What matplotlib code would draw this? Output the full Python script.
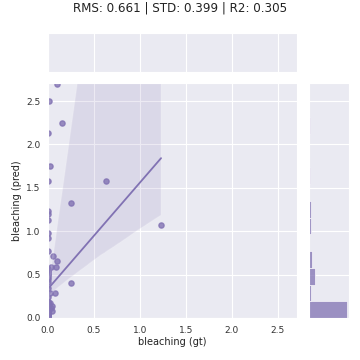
import numpy as np
import matplotlib
matplotlib.use('Agg')
import matplotlib.pyplot as plt
import seaborn as sns

# ground truth vs predicted bleaching
gt = [0.10, 0.01, 0.15, 0.00, 0.02, 0.00, 0.63, 0.25, 0.00, 0.00,
      0.00, 1.23, 0.00, 0.00, 0.00, 0.05, 0.10, 0.09, 0.03,
      0.25, 0.00, 0.00, 0.00, 0.00, 0.00, 0.00, 0.00, 0.00, 0.00, 0.00,
      0.08, 0.02, 0.00, 0.00,
      0.04, 0.03, 0.04, 0.02,
      0.00, 0.00, 0.00, 0.00, 0.00, 0.00, 0.00, 0.00, 0.00, 0.00,
      0.00, 0.00, 0.00, 0.00, 0.00, 0.00, 0.00, 0.00, 0.00, 0.00,
      0.00, 0.00, 0.00, 0.00, 0.00, 0.00, 0.00, 0.00, 0.00, 0.00,
      0.00, 0.00, 0.00, 0.00, 0.00, 0.00, 0.00, 0.00, 0.00, 0.00,
      0.00, 0.00, 0.00, 0.00, 0.00, 0.00, 0.00, 0.00, 0.00, 0.00,
      0.00, 0.00, 0.00, 0.00, 0.00, 0.00, 0.00, 0.00, 0.00, 0.00,
      0.00, 0.00, 0.00, 0.00, 0.00, 0.00]
pred = [2.70, 2.50, 2.25, 2.13, 1.75, 1.58, 1.58, 1.325, 1.23, 1.20,
        1.13, 1.07, 0.98, 0.925, 0.77, 0.72, 0.66, 0.59, 0.59,
        0.40, 0.42, 0.45, 0.47, 0.50, 0.51, 0.53, 0.54, 0.55, 0.56, 0.57,
        0.29, 0.29, 0.35, 0.24,
        0.14, 0.115, 0.084, 0.17,
        0.00, 0.00, 0.00, 0.00, 0.01, 0.01, 0.02, 0.02, 0.03, 0.03,
        0.04, 0.04, 0.05, 0.05, 0.06, 0.06, 0.07, 0.07, 0.08, 0.08,
        0.09, 0.09, 0.10, 0.10, 0.11, 0.11, 0.12, 0.12, 0.13, 0.13,
        0.14, 0.14, 0.15, 0.15, 0.16, 0.16, 0.17, 0.17, 0.18, 0.18,
        0.00, 0.02, 0.04, 0.06, 0.08, 0.10, 0.12, 0.14, 0.16, 0.18,
        0.01, 0.03, 0.05, 0.07, 0.09, 0.11, 0.13, 0.15, 0.17, 0.19,
        0.05, 0.10, 0.12, 0.15, 0.08, 0.11]
title = 'RMS: 0.661 | STD: 0.399 | R2: 0.305'

sns.set_style('darkgrid')
col = '#8172B3'

fig = plt.figure(figsize=(3.6, 3.6), dpi=100)
ax = fig.add_axes([0.1333, 0.1167, 0.692, 0.653])
ax_top = fig.add_axes([0.1333, 0.8, 0.692, 0.108], sharex=ax)
ax_right = fig.add_axes([0.858, 0.1167, 0.111, 0.653], sharey=ax)

sns.regplot(x=np.array(gt), y=np.array(pred), ax=ax, color=col, seed=0,
            scatter_kws={'s': 14}, line_kws={'lw': 1.3})
lim = max(max(gt), max(pred)) + 0.01
ax.set_xlim(0, lim)
ax.set_ylim(0, lim)
ax.set_xticks([0, 0.5, 1.0, 1.5, 2.0, 2.5])
ax.set_yticks([0, 0.5, 1.0, 1.5, 2.0, 2.5])
ax.tick_params(labelsize=6.5, colors='#333333', pad=2)
ax.set_xlabel('bleaching (gt)', fontsize=7, color='#222222', labelpad=2)
ax.set_ylabel('bleaching (pred)', fontsize=7, color='#222222', labelpad=3)

ax_right.hist(pred, bins=14, orientation='horizontal', color=col, alpha=0.75,
              edgecolor='white', linewidth=0.6)
ax_right.xaxis.grid(False)
ax_top.yaxis.grid(False)
ax_top.set_yticks([])
for a in (ax_top, ax_right):
    a.tick_params(labelleft=False, labelbottom=False, length=0)

fig.suptitle(title, fontsize=8.6, y=0.997, color='#222222')
fig.savefig('out.png', dpi=100)
